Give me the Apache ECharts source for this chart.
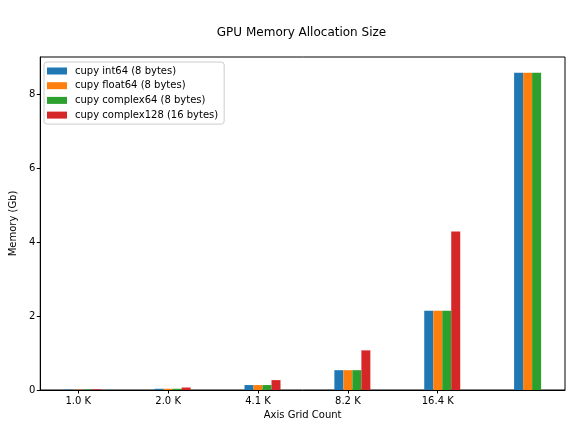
<!DOCTYPE html>
<html>
<head>
<meta charset="utf-8">
<script src="https://cdn.jsdelivr.net/npm/echarts@6/dist/echarts.min.js"></script>
<style>
  html,body{margin:0;padding:0;background:#fff;}
  #chart{width:576px;height:432px;}
</style>
</head>
<body>
<div id="chart"></div>
<script>
// grid counts (one label missing on the last group, as in the original)
const tickLabels=['1.0 K','2.0 K','4.1 K','8.2 K','16.4 K'];
// memory in Gb
const int64Mem=[0.0084,0.0336,0.134,0.537,2.147,8.59];
const float64Mem=[0.0084,0.0336,0.134,0.537,2.147,8.59];
const complex64Mem=[0.0084,0.0336,0.134,0.537,2.147,8.59];
const complex128Mem=[0.0168,0.0671,0.268,1.074,4.295];
const seriesNames=['cupy int64 (8 bytes)','cupy float64 (8 bytes)','cupy complex64 (8 bytes)','cupy complex128 (16 bytes)'];
const colors=['#1f77b4','#ff7f0e','#2ca02c','#d62728'];
const yTicks=[0,2,4,6,8];

const font='DejaVu Sans';
const allSeries=[int64Mem,float64Mem,complex64Mem,complex128Mem];
// ticks sit under the second bar of each group
const tickPos=tickLabels.map((t,i)=>i-0.05);

const chart=echarts.init(document.getElementById('chart'),null,{renderer:'canvas'});
chart.setOption({
    backgroundColor:'#fff',
    animation:false,
    textStyle:{fontFamily:font},
    title:{
        text:'GPU Memory Allocation Size',
        left:296.5,top:22,textAlign:'center',
        textStyle:{fontFamily:font,fontSize:12,fontWeight:'normal',color:'#000'}
    },
    legend:{
        orient:'vertical',left:44,top:62,
        padding:[3,6,3,3],itemGap:2.7,
        itemWidth:20,itemHeight:7,icon:'rect',
        backgroundColor:'rgba(255,255,255,0.8)',
        borderColor:'#ccc',borderWidth:1,borderRadius:3,
        textStyle:{fontFamily:font,fontSize:10,color:'#000',lineHeight:12,padding:[0,0,0,3]},
        data:seriesNames
    },
    grid:{left:38,right:11,top:57,bottom:42,show:true,borderColor:'#000',borderWidth:1,backgroundColor:'transparent'},
    xAxis:{
        type:'value',min:-0.473,max:5.366,
        name:'Axis Grid Count',nameLocation:'middle',nameGap:19,
        nameTextStyle:{fontFamily:font,fontSize:10,color:'#000'},
        axisLine:{show:true,onZero:false,lineStyle:{color:'#000',width:1}},
        splitLine:{show:false},
        axisTick:{show:true,length:3.5,customValues:tickPos,lineStyle:{color:'#000'}},
        axisLabel:{
            customValues:tickPos,margin:6,
            fontFamily:font,fontSize:10,color:'#000',
            formatter:v=>tickLabels[Math.round(v+0.05)]
        }
    },
    yAxis:{
        type:'value',min:0,max:9.02,
        name:'Memory (Gb)',nameLocation:'middle',nameGap:18,nameRotate:90,
        nameTextStyle:{fontFamily:font,fontSize:10,color:'#000'},
        axisLine:{show:true,onZero:false,lineStyle:{color:'#000',width:1}},
        splitLine:{show:false},
        axisTick:{show:true,length:3.5,customValues:yTicks,lineStyle:{color:'#000'}},
        axisLabel:{customValues:yTicks,margin:5,fontFamily:font,fontSize:10,color:'#000'}
    },
    series:allSeries.map((vals,k)=>({
        type:'bar',
        name:seriesNames[k],
        barWidth:9,barGap:'0%',
        itemStyle:{color:colors[k]},
        data:vals.map((v,i)=>[i,v])
    }))
});
</script>
</body>
</html>
